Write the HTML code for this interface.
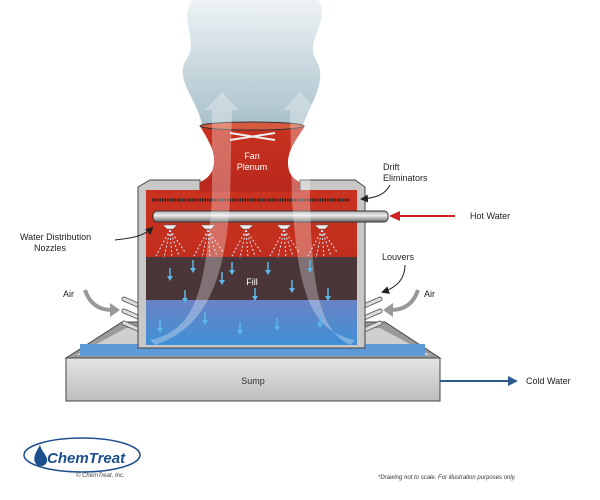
<!DOCTYPE html>
<html><head><meta charset="utf-8"><style>
html,body{margin:0;padding:0;background:#fff;}
svg{display:block;font-family:"Liberation Sans",sans-serif;}
</style></head><body>
<svg width="600" height="500" viewBox="0 0 600 500" xmlns="http://www.w3.org/2000/svg">
<defs>
<linearGradient id="red" x1="0" y1="0" x2="0" y2="1"><stop offset="0" stop-color="#c9321f"/><stop offset="1" stop-color="#b8281c"/></linearGradient>
<linearGradient id="blue" x1="0" y1="0" x2="0" y2="1"><stop offset="0" stop-color="#6a83c4"/><stop offset="1" stop-color="#3f8fd6"/></linearGradient>
<linearGradient id="pipe" x1="0" y1="0" x2="0" y2="1"><stop offset="0" stop-color="#aaa"/><stop offset=".4" stop-color="#eee"/><stop offset="1" stop-color="#666"/></linearGradient>
<linearGradient id="sump" x1="0" y1="0" x2="0" y2="1"><stop offset="0" stop-color="#e4e4e4"/><stop offset="1" stop-color="#bdbdbd"/></linearGradient>
<linearGradient id="vap" x1="0" y1="0" x2="0" y2="1"><stop offset="0" stop-color="#eef3f5"/><stop offset="1" stop-color="#a9c1cb"/></linearGradient>
<marker id="ah" markerWidth="8" markerHeight="8" refX="6" refY="4" orient="auto"><path d="M0,0 L8,4 L0,8 Z" fill="#222"/></marker>
<g id="wa" stroke="#5cb8e8" stroke-width="1.5" fill="#5cb8e8"><line x1="0" y1="0" x2="0" y2="10"/><path d="M-3,8 L3,8 L0,13 Z" stroke="none"/></g>
</defs>
<!-- vapor -->
<path d="M192,0 C178,20 200,40 186,60 C174,80 198,100 202,125 L303,125 C312,100 328,80 316,60 C304,40 332,20 318,0 Z" fill="url(#vap)"/>
<!-- basin rim -->
<path d="M66,358 L122,322 L385,322 L440,358 Z" fill="#9a9a9a" stroke="#444" stroke-width="1"/>
<path d="M76,355 L126,328 L380,328 L430,355 Z" fill="#cfcfcf"/>
<rect x="80" y="344" width="345" height="12" fill="#5d9ad8"/>
<!-- louvers -->
<g stroke="#666" stroke-width="5" stroke-linecap="round"><line x1="124" y1="299" x2="140" y2="306"/><line x1="124" y1="311" x2="140" y2="318"/><line x1="124" y1="323" x2="140" y2="330"/>
<line x1="380" y1="299" x2="364" y2="306"/><line x1="380" y1="311" x2="364" y2="318"/><line x1="380" y1="323" x2="364" y2="330"/></g>
<g stroke="#ddd" stroke-width="3" stroke-linecap="round"><line x1="124" y1="299" x2="140" y2="306"/><line x1="124" y1="311" x2="140" y2="318"/><line x1="124" y1="323" x2="140" y2="330"/>
<line x1="380" y1="299" x2="364" y2="306"/><line x1="380" y1="311" x2="364" y2="318"/><line x1="380" y1="323" x2="364" y2="330"/></g>
<!-- tower shell -->
<path d="M138,348 L138,187 L150,180 L200,180 L200,190 L300,190 L300,180 L355,180 L365,187 L365,348 Z" fill="#c8c8c8" stroke="#444"/>
<rect x="146" y="190" width="211" height="155" fill="url(#red)"/>
<rect x="146" y="257" width="211" height="45" fill="#4a3638"/>
<rect x="146" y="300" width="211" height="45" fill="url(#blue)"/>
<!-- plenum -->
<path d="M200,126 C208,140 215,150 214,163 C213,175 205,180 200,182 L200,192 L300,192 L300,182 C295,180 288,175 288,163 C288,150 296,140 305,126 Z" fill="url(#red)"/>
<ellipse cx="252" cy="126" rx="52" ry="4" fill="#d65a40" stroke="#333" stroke-width="1"/>
<path d="M230,133 L275,140 M230,140 L275,133" stroke="#eee" stroke-width="2"/>
<text x="252" y="159" font-size="9" fill="#fff" text-anchor="middle">Fan</text>
<text x="252" y="170" font-size="9" fill="#fff" text-anchor="middle">Plenum</text>
<!-- drift eliminators -->
<line x1="152" y1="200" x2="350" y2="200" stroke="#222" stroke-width="3" stroke-dasharray="1.5 1"/>
<!-- pipe -->
<rect x="153" y="211" width="235" height="11" rx="4" fill="url(#pipe)" stroke="#333"/>
<!-- nozzles & sprays -->
<g fill="#eee" stroke="#555" stroke-width=".5">
<path d="M163,225 L177,225 L173,229 L167,229 Z"/><path d="M201,225 L215,225 L211,229 L205,229 Z"/><path d="M239,225 L253,225 L249,229 L243,229 Z"/><path d="M277,225 L291,225 L287,229 L281,229 Z"/><path d="M315,225 L329,225 L325,229 L319,229 Z"/></g>
<g stroke="#cfe6f5" stroke-width="1" stroke-dasharray="2 2" fill="none">
<path d="M170,230 l-14,26 M170,230 l-6,28 M170,230 l2,28 M170,230 l9,26 M170,230 l15,22"/>
<path d="M208,230 l-14,26 M208,230 l-6,28 M208,230 l2,28 M208,230 l9,26 M208,230 l15,22"/>
<path d="M246,230 l-14,26 M246,230 l-6,28 M246,230 l2,28 M246,230 l9,26 M246,230 l15,22"/>
<path d="M284,230 l-14,26 M284,230 l-6,28 M284,230 l2,28 M284,230 l9,26 M284,230 l15,22"/>
<path d="M322,230 l-14,26 M322,230 l-6,28 M322,230 l2,28 M322,230 l9,26 M322,230 l15,22"/>
</g>
<!-- airflow -->
<path d="M150,340 C200,330 205,280 212,200 L212,110 L205,110 L222,92 L239,110 L232,110 L230,200 C225,290 200,330 155,345 Z" fill="#fff" opacity=".3"/>
<path d="M355,340 C305,330 298,280 292,200 L290,110 L283,110 L300,92 L317,110 L310,110 L310,200 C312,290 320,330 350,345 Z" fill="#fff" opacity=".3"/>
<!-- water arrows -->
<use href="#wa" x="170" y="268"/><use href="#wa" x="193" y="260"/><use href="#wa" x="222" y="272"/><use href="#wa" x="268" y="262"/><use href="#wa" x="292" y="280"/><use href="#wa" x="310" y="260"/>
<use href="#wa" x="185" y="290"/><use href="#wa" x="255" y="288"/><use href="#wa" x="328" y="288"/><use href="#wa" x="232" y="262"/>
<use href="#wa" x="160" y="320"/><use href="#wa" x="205" y="312"/><use href="#wa" x="240" y="322"/><use href="#wa" x="277" y="318"/><use href="#wa" x="320" y="315"/>
<text x="252" y="285" font-size="9" fill="#fff" text-anchor="middle">Fill</text>
<!-- sump -->
<rect x="66" y="358" width="374" height="43" fill="url(#sump)" stroke="#444"/>
<text x="253" y="384" font-size="9" fill="#333" text-anchor="middle">Sump</text>
<line x1="440" y1="381" x2="510" y2="381" stroke="#2e5b8f" stroke-width="2"/>
<path d="M508,376 L518,381 L508,386 Z" fill="#2e5b8f"/>
<text x="526" y="384" font-size="9" fill="#222">Cold Water</text>
<!-- hot water -->
<line x1="398" y1="216" x2="455" y2="216" stroke="#d02020" stroke-width="2"/>
<path d="M400,211 L389,216 L400,221 Z" fill="#d02020"/>
<text x="470" y="219" font-size="9" fill="#222">Hot Water</text>
<!-- labels -->
<text x="383" y="170" font-size="9" fill="#222">Drift</text>
<text x="383" y="181" font-size="9" fill="#222">Eliminators</text>
<path d="M390,185 C385,195 375,198 362,199" stroke="#222" fill="none" marker-end="url(#ah)"/>
<text x="20" y="240" font-size="9" fill="#222">Water Distribution</text>
<text x="34" y="251" font-size="9" fill="#222">Nozzles</text>
<path d="M115,240 C135,238 145,235 152,228" stroke="#222" fill="none" marker-end="url(#ah)"/>
<text x="382" y="260" font-size="9" fill="#222">Louvers</text>
<path d="M405,265 C405,280 395,288 383,292" stroke="#222" fill="none" marker-end="url(#ah)"/>
<text x="63" y="297" font-size="9" fill="#222">Air</text>
<text x="424" y="297" font-size="9" fill="#222">Air</text>
<path d="M85,290 C90,305 100,310 112,310" stroke="#999" stroke-width="4" fill="none"/>
<path d="M110,303 L120,310 L110,317 Z" fill="#999"/>
<path d="M418,290 C413,305 403,310 391,310" stroke="#999" stroke-width="4" fill="none"/>
<path d="M393,303 L383,310 L393,317 Z" fill="#999"/>
<!-- logo -->
<ellipse cx="82" cy="455" rx="58" ry="17" fill="none" stroke="#1d4f8c" stroke-width="1.5"/>
<path d="M40,445 C36,452 32,458 36,464 C40,468 48,466 47,459 C46,454 42,452 40,445 Z" fill="#1d4f8c"/>
<text x="47" y="463" font-size="15" font-weight="bold" font-style="italic" fill="#1d4f8c">ChemTreat</text>
<text x="76" y="477" font-size="6" font-style="italic" fill="#444">© ChemTreat, Inc.</text>
<text x="378" y="479" font-size="6" font-style="italic" fill="#333">*Drawing not to scale. For illustration purposes only.</text>
</svg>
</body></html>
